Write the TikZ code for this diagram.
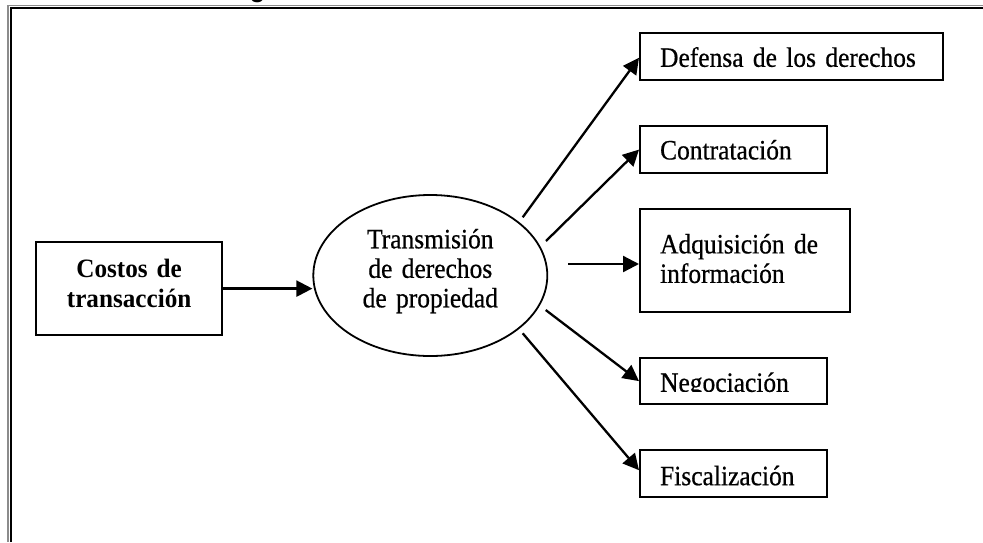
\documentclass[tikz,border=0pt]{standalone}
\usepackage{fontspec}
\setmainfont{Liberation Serif}
\newfontfamily\heavyserif{Liberation Serif}[FakeBold=0.6, FakeStretch=0.91, WordSpace=0.7]
\newfontfamily\boldserif{Liberation Serif Bold}[FakeStretch=0.95, WordSpace=0.8]
\newfontfamily\titlesans{Liberation Sans}
\usetikzlibrary{arrows.meta,shapes.geometric,calc}
\begin{document}
\begin{tikzpicture}[x=1pt,y=-1pt,
  every node/.style={font=\heavyserif\fontsize{28}{29.5}\selectfont},
  bx/.style={draw, line width=2.2pt, rectangle, anchor=north west, inner ysep=0pt, inner xsep=20pt, align=left, text depth=0pt},
  conn/.style={line width=2.3pt, -{Triangle[length=16pt,width=16pt]}},
  framegray/.style={draw=black!45, line width=1.4pt},
  frameblack/.style={draw=black, line width=2pt}
 ]
\useasboundingbox (0,0) rectangle (983,542);
\fill[white] (0,0) rectangle (983,542);
% outer frame (cut by the page)
\draw[framegray] (8,542) -- (8,5.5) -- (983,5.5);
\draw[frameblack] (10.5,542) -- (10.5,8) -- (983,8);
% clipped title glyph at the top
\begin{scope}
\clip (0,0) rectangle (983,4);
\node[font=\titlesans\bfseries\fontsize{25}{30}\selectfont, anchor=base, inner sep=0pt] (title) at (257.5,-2.3) {g};
\end{scope}
% nodes
\node[bx, align=center, font=\boldserif\fontsize{26.5}{29.3}\selectfont, text width=146pt, minimum width=186pt, minimum height=93pt, text height=21pt, text depth=42.6pt] (costos) at (35,241) {Costos de\\transacción};
\node[ellipse, draw, line width=1.8pt, minimum width=234pt, minimum height=161pt, inner sep=0pt, align=center, text width=160pt, text height=21pt, text depth=75.4pt] (tr) at (430.3,275.5) {Transmisión\\de derechos\\de propiedad};
\node[bx, text width=263pt, minimum width=303pt, minimum height=47pt, text height=20.4pt] (def) at (639,32) {Defensa de los derechos};
\node[bx, text width=147pt, minimum width=187pt, minimum height=47pt, text height=19.6pt] (con) at (639,125) {Contratación};
\node[bx, text width=170pt, minimum width=210pt, minimum height=103pt, text height=21pt, text depth=35.4pt] (adq) at (639,208) {Adquisición de\\información};
\node[bx, text width=147pt, minimum width=187pt, minimum height=46pt, text height=21.4pt] (neg) at (639,357) {Negociación};
\node[bx, text width=147pt, minimum width=187pt, minimum height=47pt, text height=23.2pt] (fis) at (639,449) {Fiscalización};
% descender of the g in "Negociación" is hidden in the reference
\fill[white] (680,392.3) rectangle (712,401);
% connectors
\coordinate (s1) at (522.7,217.3);
\coordinate (s2) at (546,241);
\coordinate (s3) at (568.3,264);
\coordinate (s4) at (545.7,310);
\coordinate (s5) at (522.7,333.3);
\draw[conn] (costos.east) -- (costos.east -| tr.west);
\draw[conn] (s1) -- ($(def.west)+(0,1.2)$);
\draw[conn] (s2) -- (con.west);
\draw[conn] (s3) -- (s3 -| adq.west);
\draw[conn] (s4) -- (neg.west);
\draw[conn] (s5) -- ($(fis.west)+(0,-3.4)$);
\end{tikzpicture}
\end{document}
